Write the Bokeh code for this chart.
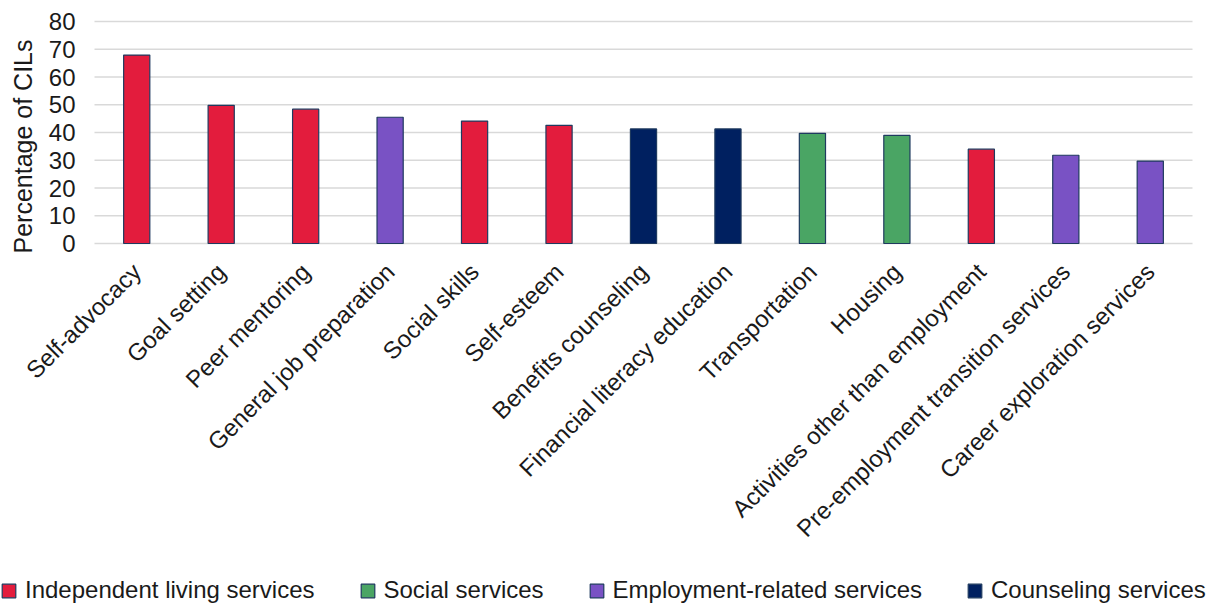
from bokeh.plotting import figure
from bokeh.models import (ColumnDataSource, Range1d, Legend, LegendItem, LinearAxis,
                          FixedTicker, Label)
from bokeh.embed import file_html
from bokeh.resources import INLINE
import math

categories = ["Self-advocacy", "Goal setting", "Peer mentoring", "General job preparation",
              "Social skills", "Self-esteem", "Benefits counseling", "Financial literacy education",
              "Transportation", "Housing", "Activities other than employment",
              "Pre-employment transition services", "Career exploration services"]
values = [67.9, 49.8, 48.4, 45.5, 44.1, 42.6, 41.3, 41.3, 39.7, 39.0, 34.0, 31.8, 29.7]
groups = ["Independent living services", "Independent living services", "Independent living services",
          "Employment-related services", "Independent living services", "Independent living services",
          "Counseling services", "Counseling services", "Social services", "Social services",
          "Independent living services", "Employment-related services", "Employment-related services"]
legend_order = ["Independent living services", "Social services",
                "Employment-related services", "Counseling services"]
group_colors = {"Independent living services": "#E31C3D",
                "Social services": "#4AA564",
                "Employment-related services": "#7952C4",
                "Counseling services": "#002060"}
y_ticks = [0, 10, 20, 30, 40, 50, 60, 70, 80]
y_title = "Percentage of CILs"

FONT = "Liberation Sans"
TXT = "#1a1a1a"
OUTLINE = "#1F3A5F"

# ---- layout (pixels) ----
W, H = 1209, 604
PLOT_L, PLOT_R = 94, 1192     # left / right edge of the plotting band
PLOT_T, PLOT_B = 21, 243      # top (80) / bottom (0) of the value band
n = len(categories)
band = (PLOT_R - PLOT_L) / n
ppu = (PLOT_B - PLOT_T) / (y_ticks[-1] - y_ticks[0])
x_range = Range1d(-0.5 - PLOT_L / band, n - 0.5 + (W - PLOT_R) / band)
y_range = Range1d(-(H - PLOT_B) / ppu, y_ticks[-1] + PLOT_T / ppu)

p = figure(x_range=x_range, y_range=y_range, width=W, height=H,
           x_axis_location=None, y_axis_location=None,
           output_backend="svg", toolbar_location=None,
           min_border_left=0, min_border_right=0, min_border_top=0, min_border_bottom=0)
p.outline_line_color = None
p.xgrid.grid_line_color = None
p.ygrid.grid_line_color = None

xpos = list(range(n))

# horizontal gridlines across the plotting band
p.segment(x0=[-0.5] * len(y_ticks), x1=[n - 0.5] * len(y_ticks), y0=y_ticks, y1=y_ticks,
          line_color="#D9D9D9", line_width=1.5)

renderers = {}
for g in legend_order:
    idx = [i for i, gg in enumerate(groups) if gg == g]
    src = ColumnDataSource(dict(x=[xpos[i] for i in idx], top=[values[i] for i in idx]))
    renderers[g] = p.vbar(x="x", top="top", width=0.31, source=src,
                          fill_color=group_colors[g], line_color=OUTLINE, line_width=1.2)

xaxis = LinearAxis(fixed_location=0, ticker=FixedTicker(ticks=xpos),
                   major_label_overrides={i: c for i, c in zip(xpos, categories)})
yaxis = LinearAxis(fixed_location=-0.5, ticker=FixedTicker(ticks=y_ticks))
p.add_layout(xaxis, "below")
p.add_layout(yaxis, "left")

for ax in (xaxis, yaxis):
    ax.axis_line_color = None
    ax.major_tick_line_color = None
    ax.minor_tick_line_color = None
    ax.major_tick_out = 0
    ax.major_tick_in = 0
    ax.major_label_text_font = FONT
    ax.major_label_text_color = TXT

yaxis.major_label_text_font_size = "24px"
yaxis.major_label_standoff = 19

xaxis.major_label_text_font_size = "24px"
xaxis.major_label_orientation = math.pi / 4
xaxis.major_label_standoff = 24

p.add_layout(Label(x=22, y=H - 146, x_units="screen", y_units="screen", angle=math.pi / 2,
                   text=y_title, text_font=FONT, text_font_size="25px", text_color=TXT,
                   text_align="center", text_baseline="middle"))

legend = Legend(items=[LegendItem(label=g, renderers=[renderers[g]]) for g in legend_order],
                orientation="horizontal", location=(0, 0),
                label_text_font=FONT, label_text_font_size="24px", label_text_color=TXT,
                glyph_width=17, glyph_height=17, label_standoff=8, spacing=44,
                border_line_color=None, background_fill_alpha=0, padding=0, margin=0)
p.add_layout(legend, "center")

open("out.html", "w").write(file_html(p, INLINE))
